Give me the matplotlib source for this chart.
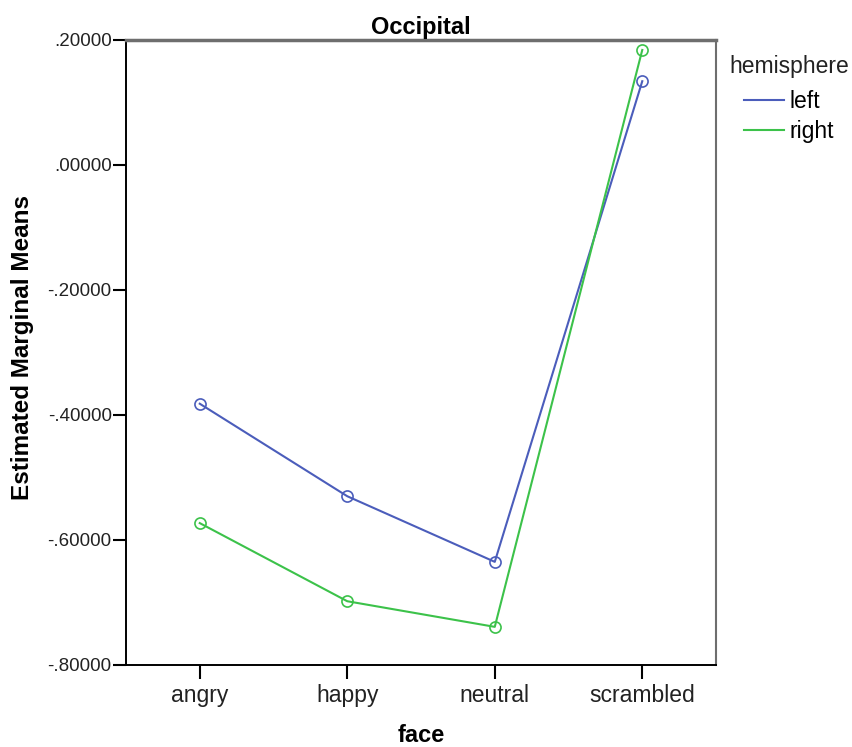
import numpy as np
import matplotlib.pyplot as plt
from matplotlib.ticker import FuncFormatter

plt.rcParams['font.family'] = ['Liberation Sans', 'DejaVu Sans']

faces = ['angry', 'happy', 'neutral', 'scrambled']
left_means = [-0.382, -0.530, -0.635, 0.134]
right_means = [-0.573, -0.698, -0.739, 0.184]
y_ticks = [0.2, 0.0, -0.2, -0.4, -0.6, -0.8]

BLUE = '#4b5dbb'
GREEN = '#3cc24a'


def spss_fmt(v, _):
    # SPSS style: no leading zero, five decimals
    s = f'{v:.5f}'
    return s.replace('0.', '.', 1)


fig = plt.figure(figsize=(8.52, 7.47), dpi=100)
ax = fig.add_axes([0.1479, 0.1098, 0.6925, 0.8367])

x = np.arange(len(faces))
ax.plot(x, left_means, color=BLUE, lw=1.5, marker='o', ms=8,
        mfc='none', mec=BLUE, mew=1.2, label='left')
ax.plot(x, right_means, color=GREEN, lw=1.5, marker='o', ms=8,
        mfc='none', mec=GREEN, mew=1.2, label='right')

ax.set_xlim(-0.5, 3.5)
ax.set_ylim(-0.8, 0.2)
ax.set_xticks(x)
ax.set_xticklabels(faces, fontsize=16.5, color='#222222')
ax.set_yticks(y_ticks)
ax.yaxis.set_major_formatter(FuncFormatter(spss_fmt))
ax.tick_params(axis='y', labelsize=13.5, length=9.5, width=1.5, pad=0.8,
               labelcolor='#222222')
ax.tick_params(axis='x', length=10, width=1.5, pad=3.5)

for side in ['left', 'bottom']:
    ax.spines[side].set_color('black')
    ax.spines[side].set_linewidth(1.4)
ax.spines['top'].set_color('#6e6e6e')
ax.spines['top'].set_linewidth(2.5)
ax.spines['right'].set_color('#6e6e6e')
ax.spines['right'].set_linewidth(1.5)

ax.set_title('Occipital', fontsize=17, fontweight='bold', pad=4)
fig.text(421 / 852, 1 - 735 / 747, 'face', fontsize=17, fontweight='bold',
         ha='center', va='center')
fig.text(23 / 852, 1 - 347 / 747, 'Estimated Marginal Means', fontsize=17.5,
         fontweight='bold', rotation=90, ha='center', va='center')

# legend title sits left of the indented entries
fig.text(729 / 852, 1 - 67 / 747, 'hemisphere', fontsize=16.5,
         ha='left', va='center', color='#222222')
leg = fig.legend(handles=ax.get_lines(), labels=['left', 'right'],
                 loc='upper left', bbox_to_anchor=(744 / 852, 1 - 90 / 747),
                 frameon=False, fontsize=16.5, handlelength=1.75,
                 handletextpad=0.25, labelspacing=0.3, borderpad=0,
                 borderaxespad=0)
for h in leg.legend_handles:
    h.set_marker('')

fig.savefig('out.png', dpi=100)
